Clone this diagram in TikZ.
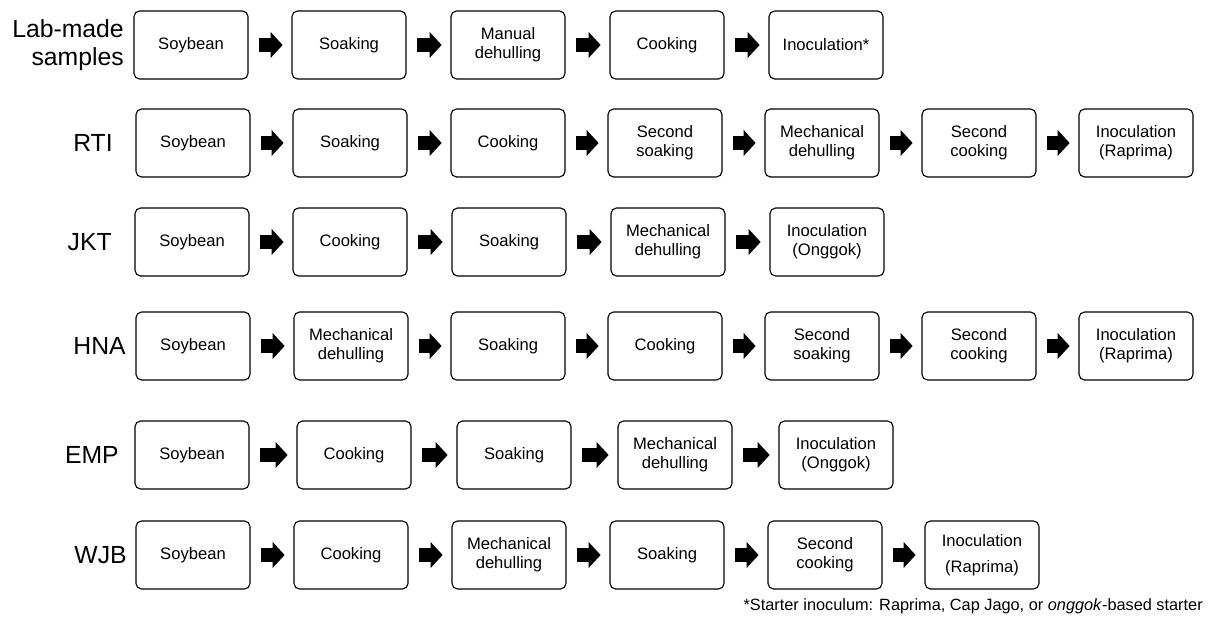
\documentclass[tikz,border=0pt]{standalone}
\usepackage{fontspec}
\setmainfont{Liberation Sans}
\usepackage{tikz}
\usetikzlibrary{arrows.meta, positioning}

\begin{document}
\begin{tikzpicture}[
    x=0.025cm, y=-0.025cm,
    stage/.style={draw, line width=0.8pt, rounded corners=4pt, rectangle, minimum height=1.7cm, minimum width=2.85cm, inner sep=0pt, align=center, font=\fontsize{11.8}{13.5}\selectfont},
    group/.style={anchor=east, align=right, inner sep=0pt, font=\fontsize{17.6}{20}\selectfont},
    flow/.style={line width=0.36cm, -{Triangle[length=0.3cm, width=0.65cm, line width=0pt]}, shorten <=0.27cm, shorten >=0.22cm}
]
    \useasboundingbox (0,0) rectangle (1208,628);

    % Lab-made samples
    \node[group] (labL) at (124,45) {Lab-made\\samples};
    \node[stage] (lab1) at (191,45) {Soybean};
    \node[stage] (lab2) at (349,45) {Soaking};
    \node[stage] (lab3) at (508,45) {Manual\\dehulling};
    \node[stage] (lab4) at (667,45) {Cooking};
    \node[stage] (lab5) at (826,45) {Inoculation*};
    \draw[flow] (lab1) -- (lab2);
    \draw[flow] (lab2) -- (lab3);
    \draw[flow] (lab3) -- (lab4);
    \draw[flow] (lab4) -- (lab5);

    % RTI
    \node[group] (rtiL) at (113,143) {RTI};
    \node[stage] (rti1) at (193,143) {Soybean};
    \node[stage] (rti2) at (350,143) {Soaking};
    \node[stage] (rti3) at (508,143) {Cooking};
    \node[stage] (rti4) at (665,143) {Second\\soaking};
    \node[stage] (rti5) at (822,143) {Mechanical\\dehulling};
    \node[stage] (rti6) at (979,143) {Second\\cooking};
    \node[stage] (rti7) at (1136,143) {Inoculation\\(Raprima)};
    \draw[flow] (rti1) -- (rti2);
    \draw[flow] (rti2) -- (rti3);
    \draw[flow] (rti3) -- (rti4);
    \draw[flow] (rti4) -- (rti5);
    \draw[flow] (rti5) -- (rti6);
    \draw[flow] (rti6) -- (rti7);

    % JKT
    \node[group] (jktL) at (112,242) {JKT};
    \node[stage] (jkt1) at (192,242) {Soybean};
    \node[stage] (jkt2) at (350,242) {Cooking};
    \node[stage] (jkt3) at (509,242) {Soaking};
    \node[stage] (jkt4) at (668,242) {Mechanical\\dehulling};
    \node[stage] (jkt5) at (827,242) {Inoculation\\(Onggok)};
    \draw[flow] (jkt1) -- (jkt2);
    \draw[flow] (jkt2) -- (jkt3);
    \draw[flow] (jkt3) -- (jkt4);
    \draw[flow] (jkt4) -- (jkt5);

    % HNA
    \node[group] (hnaL) at (126,346) {HNA};
    \node[stage] (hna1) at (193,346) {Soybean};
    \node[stage] (hna2) at (351,346) {Mechanical\\dehulling};
    \node[stage] (hna3) at (508,346) {Soaking};
    \node[stage] (hna4) at (665,346) {Cooking};
    \node[stage] (hna5) at (822,346) {Second\\soaking};
    \node[stage] (hna6) at (979,346) {Second\\cooking};
    \node[stage] (hna7) at (1136,346) {Inoculation\\(Raprima)};
    \draw[flow] (hna1) -- (hna2);
    \draw[flow] (hna2) -- (hna3);
    \draw[flow] (hna3) -- (hna4);
    \draw[flow] (hna4) -- (hna5);
    \draw[flow] (hna5) -- (hna6);
    \draw[flow] (hna6) -- (hna7);

    % EMP
    \node[group] (empL) at (119,455) {EMP};
    \node[stage] (emp1) at (192,455) {Soybean};
    \node[stage] (emp2) at (354,455) {Cooking};
    \node[stage] (emp3) at (514,455) {Soaking};
    \node[stage] (emp4) at (675,455) {Mechanical\\dehulling};
    \node[stage] (emp5) at (836,455) {Inoculation\\(Onggok)};
    \draw[flow] (emp1) -- (emp2);
    \draw[flow] (emp2) -- (emp3);
    \draw[flow] (emp3) -- (emp4);
    \draw[flow] (emp4) -- (emp5);

    % WJB
    \node[group] (wjbL) at (127,555) {WJB};
    \node[stage] (wjb1) at (193,555) {Soybean};
    \node[stage] (wjb2) at (351,555) {Cooking};
    \node[stage] (wjb3) at (509,555) {Mechanical\\dehulling};
    \node[stage] (wjb4) at (667,555) {Soaking};
    \node[stage] (wjb5) at (825,555) {Second\\cooking};
    \node[stage] (wjb6) at (982,555) {Inoculation\\[5pt](Raprima)};
    \draw[flow] (wjb1) -- (wjb2);
    \draw[flow] (wjb2) -- (wjb3);
    \draw[flow] (wjb3) -- (wjb4);
    \draw[flow] (wjb4) -- (wjb5);
    \draw[flow] (wjb5) -- (wjb6);

    % Footnote
    \node[anchor=east, inner sep=0pt, font=\fontsize{11.6}{13}\selectfont] (note) at (1203,606) {*Starter inoculum: Raprima, Cap Jago, or \textit{onggok}-based starter};
\end{tikzpicture}
\end{document}
